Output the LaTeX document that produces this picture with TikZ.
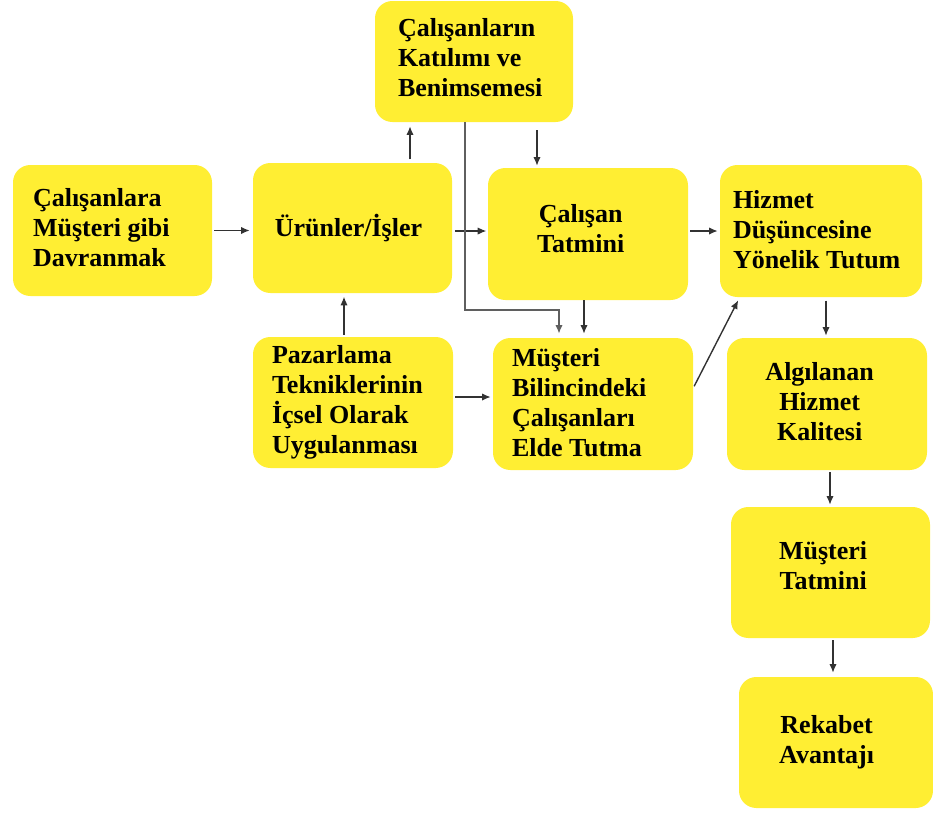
\documentclass[tikz,border=0pt]{standalone}
\usepackage{fontspec}
\setmainfont{Liberation Serif}
\usetikzlibrary{arrows.meta,calc}
\definecolor{boxyellow}{RGB}{255,238,51}
\definecolor{linegray}{RGB}{50,50,50}
\definecolor{elbowgray}{RGB}{95,95,95}
% invisible trailing strut that moves a centred line slightly to the left
\newcommand{\tailgap}[1][11pt]{\rule{#1}{0pt}}
% extra depth that lifts the text block inside its box
\newcommand{\lift}[1]{\rule[-#1]{0pt}{0pt}}

\begin{document}
\begin{tikzpicture}[x=0.75pt,y=-0.75pt,
  box/.style={fill=boxyellow, rounded corners=13pt, anchor=center,
    font=\bfseries\fontsize{19.5}{22.5}\selectfont, text=black},
  cbox/.style 2 args={box, align=center, inner sep=0pt,
    minimum width=#1, minimum height=#2},
  lbox/.style n args={4}{box, align=flush left, inner ysep=0pt,
    minimum width=#1, minimum height=#2, text width=#3, inner xsep=#4},
  arr/.style={draw=linegray, line width=1.05pt, -{Latex[length=6.5pt,width=5.5pt]}},
]
\useasboundingbox (0,0) rectangle (933,815);

% boxes
\node[lbox={149.25pt}{98.25pt}{119.25pt}{15pt}]   (davr)   at (112.5,230.5) {Çalışanlara\\Müşteri gibi\\Davranmak\lift{4pt}};
\node[cbox={149.25pt}{97.5pt}]                    (urun)   at (352.5,228)   {Ürünler/İşler\tailgap[6pt]};
\node[lbox={148.5pt}{90.75pt}{114pt}{17.25pt}]    (katil)  at (474,61.5)    {Çalışanların\\Katılımı ve\\Benimsemesi\lift{6pt}};
\node[cbox={150pt}{99pt}]                         (calt)   at (588,234)     {Çalışan\tailgap\\Tatmini\tailgap\lift{9pt}};
\node[lbox={151.5pt}{99pt}{132pt}{9.75pt}]        (hizm)   at (821,231)     {Hizmet\\Düşüncesine\\Yönelik Tutum\lift{3pt}};
\node[lbox={150pt}{98.25pt}{121.5pt}{14.25pt}]    (pazar)  at (353,402.5)   {Pazarlama\\Tekniklerinin\\İçsel Olarak\\Uygulanması\lift{3pt}};
\node[lbox={150pt}{99pt}{121.5pt}{14.25pt}]       (bilinc) at (593,404)     {Müşteri\\Bilincindeki\\Çalışanları\\Elde Tutma\lift{3pt}};
\node[cbox={150pt}{99pt}]                         (algi)   at (827,404)     {Algılanan\tailgap\\Hizmet\tailgap\\Kalitesi\tailgap\lift{4pt}};
\node[cbox={149.25pt}{98.25pt}]                   (mtat)   at (830.5,572.5) {Müşteri\tailgap\\Tatmini\tailgap\lift{10pt}};
\node[cbox={145.5pt}{98.25pt}]                    (rek)    at (836,742.5)   {Rekabet\tailgap[14pt]\\Avantajı\tailgap[14pt]\lift{2pt}};

% connectors
\draw[arr, shorten <=1.5pt, shorten >=2.25pt] (davr.east) -- (davr.east -| urun.west);
\draw[arr, shorten <=2pt, shorten >=1pt] ([yshift=-2.25pt]urun.east) -- ([yshift=-2.25pt]urun.east -| calt.west);
\draw[arr, shorten <=2.5pt, shorten >=3pt] ([xshift=43.125pt]urun.north) -- ([xshift=43.125pt]urun.north |- katil.south);
\draw[arr, shorten <=6pt, shorten >=1.5pt] ([xshift=47.25pt]katil.south) -- ([xshift=47.25pt]katil.south |- calt.north);
\coordinate (elbow) at (559,310);
\draw[arr, draw=elbowgray, line width=1.2pt, shorten >=3pt]
  ([xshift=-6.75pt]katil.south) |- (elbow) -- (elbow |- bilinc.north);
\draw[arr, shorten >=3pt] ([xshift=-3pt]calt.south) -- ([xshift=-3pt]calt.south |- bilinc.north);
\draw[arr, shorten <=1.5pt, shorten >=1.5pt] ([yshift=2.25pt]calt.east) -- ([yshift=2.25pt]calt.east -| hizm.west);
\draw[arr, shorten <=1.5pt, shorten >=2.5pt] ([xshift=-6.75pt]pazar.north) -- ([xshift=-6.75pt]pazar.north |- urun.south);
\draw[arr, shorten <=1.5pt, shorten >=1.5pt] ([yshift=4.125pt]pazar.east) -- ([yshift=4.125pt]pazar.east -| bilinc.west);
\draw[arr, shorten <=1.5pt, shorten >=2.5pt] ([yshift=12pt]bilinc.east) -- ([xshift=15pt]hizm.south west);
\draw[arr, shorten <=2.5pt, shorten >=1.5pt] ([xshift=3.75pt]hizm.south) -- ([xshift=3.75pt]hizm.south |- algi.north);
\draw[arr, shorten <=1.5pt, shorten >=1.5pt] ([xshift=2.25pt]algi.south) -- ([xshift=2.25pt]algi.south |- mtat.north);
\draw[arr, shorten <=1.5pt, shorten >=3pt] ([xshift=1.875pt]mtat.south) -- ([xshift=1.875pt]mtat.south |- rek.north);
\end{tikzpicture}
\end{document}
